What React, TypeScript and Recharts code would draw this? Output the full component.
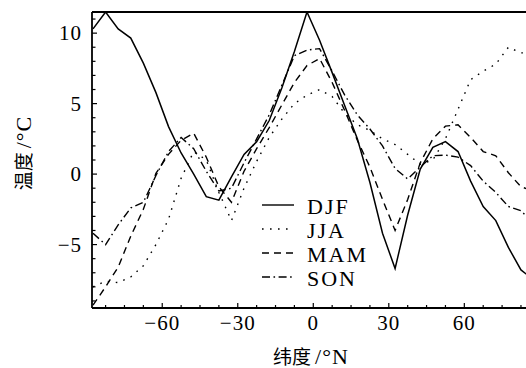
import React from 'react';
import { LineChart, Line, XAxis, YAxis, ReferenceLine, Customized } from 'recharts';

const lat = [-87.5, -82.5, -77.5, -72.5, -67.5, -62.5, -57.5, -52.5, -47.5, -42.5, -37.5, -32.5, -27.5, -22.5, -17.5, -12.5, -7.5, -2.5, 2.5, 7.5, 12.5, 17.5, 22.5, 27.5, 32.5, 37.5, 42.5, 47.5, 52.5, 57.5, 62.5, 67.5, 72.5, 77.5, 82.5, 87.5];
const djf = [10.3, 11.5, 10.3, 9.65, 7.87, 5.78, 3.37, 1.5, 0.0, -1.6, -1.85, -0.2, 1.4, 2.3, 3.8, 6.1, 8.7, 11.5, 9.5, 7.2, 4.85, 2.5, -0.6, -4.2, -6.7, -2.9, 0.35, 1.9, 2.3, 1.6, -0.5, -2.3, -3.3, -5.2, -6.8, -7.5];
const jja = [-8.0, -7.6, -7.7, -7.3, -6.5, -5.0, -3.2, -0.3, 1.6, 1.0, -1.3, -3.3, -1.0, 0.9, 2.6, 3.9, 5.0, 5.6, 6.0, 5.5, 4.3, 3.5, 3.1, 2.5, 2.1, 1.4, 0.7, 1.0, 2.5, 4.6, 6.7, 7.3, 7.8, 9.0, 8.6, 8.6];
const mam = [-9.3, -8.0, -6.6, -4.4, -2.5, 0.05, 1.4, 2.4, 2.9, 1.2, -0.9, -2.0, 0.2, 1.8, 3.3, 4.9, 6.5, 7.7, 8.2, 6.5, 4.5, 2.4, 0.5, -1.8, -4.0, -1.8, 0.8, 2.5, 3.4, 3.5, 2.6, 1.6, 1.3, 0.1, -0.9, -1.2];
const son = [-4.2, -5.0, -3.6, -2.4, -2.0, -0.1, 1.6, 2.6, 1.8, 0.2, -1.2, -1.0, 0.8, 2.5, 4.2, 6.3, 8.4, 8.8, 8.9, 7.3, 5.6, 4.2, 3.2, 2.0, 0.4, -0.35, 0.5, 1.3, 1.35, 1.2, 0.6, -0.5, -1.3, -2.3, -2.6, -3.5];

const xTicks = [-82.5, -75, -67.5, -60, -52.5, -45, -37.5, -30, -22.5, -15, -7.5, 0, 7.5, 15, 22.5, 30, 37.5, 45, 52.5, 60, 67.5, 75, 82.5];
const xMajor = [-60, -30, 0, 30, 60];
const yTicks = [-9, -8, -7, -6, -5, -4, -3, -2, -1, 0, 1, 2, 3, 4, 5, 6, 7, 8, 9, 10, 11];
const yMajor = [-5, 0, 5, 10];

const seriesNames = ['DJF', 'JJA', 'MAM', 'SON'];
const seriesKeys = ['djf', 'jja', 'mam', 'son'];
const dashes = ['', '1.6 6.4', '7 5', '8 3.5 1.6 3.5'];

const X_DOMAIN: [number, number] = [-87.9, 84.5];
const Y_DOMAIN: [number, number] = [-9.5, 11.5];

const data = lat.map((l, i) => ({ lat: l, djf: djf[i], jja: jja[i], mam: mam[i], son: son[i] }));

const SERIF = '"Liberation Serif", "DejaVu Serif", serif';
const CJK = '"Noto Sans CJK SC", "Noto Sans", sans-serif';
const FS = 21;

const fmt = (v: number) => (v < 0 ? '\u2212' + Math.abs(v) : String(v));

const XTick = (props: any) => {
  const { x, y, payload } = props;
  const v = payload.value;
  const major = xMajor.includes(v);
  return (
    <g>
      <line x1={x} x2={x} y1={y} y2={y - (major ? 5 : 3)} stroke="#000" strokeWidth={1.2} />
      {major && (
        <text x={x} y={y + 22} textAnchor="middle" fontFamily={SERIF} fontSize={FS} fill="#000" letterSpacing={1}>
          {fmt(v)}
        </text>
      )}
    </g>
  );
};

const YTick = (props: any) => {
  const { x, y, payload } = props;
  const v = payload.value;
  const major = yMajor.includes(v);
  return (
    <g>
      <line x1={x} x2={x + (major ? 5 : 3.5)} y1={y} y2={y} stroke="#000" strokeWidth={1.2} />
      {major && (
        <text x={x - 10} y={y + 7} textAnchor="end" fontFamily={SERIF} fontSize={FS} fill="#000" letterSpacing={1}>
          {fmt(v)}
        </text>
      )}
    </g>
  );
};

const Overlay = () => (
  <g>
    <text x={311} y={364} textAnchor="middle" fill="#000">
      <tspan fontFamily={CJK} fontSize={19}>纬度</tspan>
      <tspan fontFamily={SERIF} fontSize={22} dx={4} letterSpacing={1}>/°N</tspan>
    </text>
    <text transform="translate(31,153) rotate(-90)" textAnchor="middle" fill="#000">
      <tspan fontFamily={CJK} fontSize={19}>温度</tspan>
      <tspan fontFamily={SERIF} fontSize={22} dx={4} letterSpacing={1}>/°C</tspan>
    </text>
    {seriesNames.map((n, i) => {
      const cy = 205 + i * 24;
      return (
        <g key={n}>
          <line x1={262} x2={294} y1={cy} y2={cy} stroke="#000" strokeWidth={1.4} strokeDasharray={dashes[i] || undefined} />
          <text x={307} y={cy + 8.5} fontFamily={SERIF} fontSize={22} fill="#000" letterSpacing={2}>
            {n}
          </text>
        </g>
      );
    })}
  </g>
);

export default function App() {
  return (
    <div style={{ position: 'absolute', left: 0, top: 0, width: 526, height: 368, overflow: 'hidden', background: '#fff' }}>
      <LineChart width={526} height={368} data={data} margin={{ top: 12, right: 0, left: 0, bottom: 0 }}>
        <XAxis
          dataKey="lat"
          type="number"
          domain={X_DOMAIN}
          allowDataOverflow
          ticks={xTicks}
          interval={0}
          tick={<XTick />}
          tickLine={false}
          tickSize={0}
          tickMargin={0}
          height={60}
          axisLine={{ stroke: '#000', strokeWidth: 1.8 }}
        />
        <YAxis
          type="number"
          domain={Y_DOMAIN}
          allowDataOverflow
          ticks={yTicks}
          interval={0}
          tick={<YTick />}
          tickLine={false}
          tickSize={0}
          tickMargin={0}
          width={92}
          axisLine={{ stroke: '#000', strokeWidth: 1.8 }}
        />
        <ReferenceLine y={Y_DOMAIN[1]} stroke="#000" strokeWidth={1.8} />
        {seriesKeys.map((k, i) => (
          <Line
            key={k}
            dataKey={k}
            type="linear"
            stroke="#000"
            strokeWidth={i === 0 ? 1.5 : 1.4}
            strokeDasharray={dashes[i] || undefined}
            dot={false}
            activeDot={false}
            isAnimationActive={false}
          />
        ))}
        <Customized component={Overlay} />
      </LineChart>
    </div>
  );
}
